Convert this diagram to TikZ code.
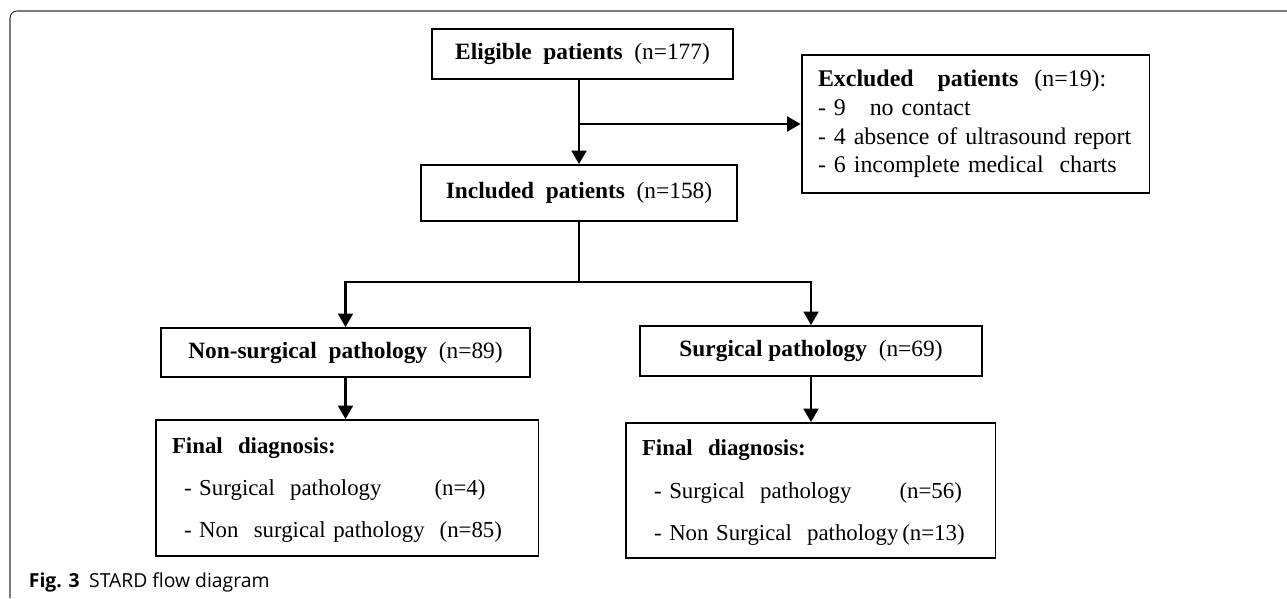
\documentclass[tikz,border=0pt]{standalone}
\usepackage{fontspec}
\setmainfont{Liberation Serif}
\newfontfamily\capfont{Open Sans}
\usetikzlibrary{arrows.meta, positioning}

\begin{document}
\begin{tikzpicture}[
  x=0.02cm, y=-0.02cm,
  box/.style={draw, line width=1.1pt, inner sep=0pt, font=\fontsize{13.3}{16}\selectfont},
  listbox/.style={box, align=left, inner xsep=0.33cm},
  finalbox/.style={listbox, font=\fontsize{13}{16}\selectfont},
  arr/.style={line width=1.2pt, -{Triangle[length=0.27cm, width=0.3cm]}},
  line width=1.2pt]

  \useasboundingbox (0,0) rectangle (1287,598);
  \draw[black!80, line width=0.6pt, rounded corners=0.14cm] (10,598) -- (10,11) -- (1287,11);

  \node[box, minimum width=6.02cm, minimum height=1cm] (elig) at (582.5,54)
    {\textbf{Eligible\ \ patients}\ \ (n=177)};
  \node[listbox, font=\fontsize{13.6}{16.4}\selectfont, text width=6.3cm, minimum height=2.76cm] (excl) at (975.5,124)
    {\textbf{Excluded\ \ \ patients}\ \ (n=19):\\
     - 9\ \ \ no contact\\
     - 4 absence of ultrasound report\\
     - 6 incomplete medical\ \ charts};
  \node[box, minimum width=6.32cm, minimum height=1.12cm] (incl) at (579,193)
    {\textbf{Included\ \ patients}\ \ (n=158)};
  \coordinate[below=1.2cm of incl.south] (fork);

  \node[box, minimum width=7.38cm, minimum height=0.98cm] (nons) at (345.5,352.5)
    {\textbf{Non-surgical\ \ pathology}\ \ (n=89)};
  \node[box, minimum width=6.84cm, minimum height=1cm] (surg) at (811,351)
    {\textbf{Surgical pathology}\ \ (n=69)};

  \node[finalbox, text width=7cm, minimum height=2.72cm] (finL) at (347,488)
    {\rule{0pt}{0.4cm}\textbf{Final\ \ diagnosis:}\\[8pt]
     \hspace*{0.24cm}- Surgical\ \ pathology\hspace{1.06cm}(n=4)\\[8pt]
     \hspace*{0.24cm}- Non\ \ surgical pathology\hspace{0.3cm}(n=85)};
  \node[finalbox, text width=6.74cm, minimum height=2.7cm] (finR) at (810.5,490.5)
    {\rule{0pt}{0.4cm}\textbf{Final\ \ diagnosis:}\\[8pt]
     \hspace*{0.24cm}- Surgical\ \ pathology\hspace{0.96cm}(n=56)\\[8pt]
     \hspace*{0.24cm}- Non Surgical\ \ pathology\,(n=13)};

  \draw[arr] (incl.north |- elig.south) -- (incl.north);
  \draw[arr] (incl.north |- excl.west) -- (excl.west);
  \draw (incl.south) -- (fork);
  \draw[arr] (fork) -| (nons.north);
  \draw[arr] (fork) -| (surg.north);
  \draw[arr] (nons.south) -- (nons.south |- finL.north);
  \draw[arr] (surg.south) -- (surg.south |- finR.north);

  \node[anchor=base west, font=\capfont\fontsize{11}{13}\selectfont] (cap) at (22,587)
    {\textbf{Fig. 3}\enspace STARD flow diagram};
\end{tikzpicture}
\end{document}
